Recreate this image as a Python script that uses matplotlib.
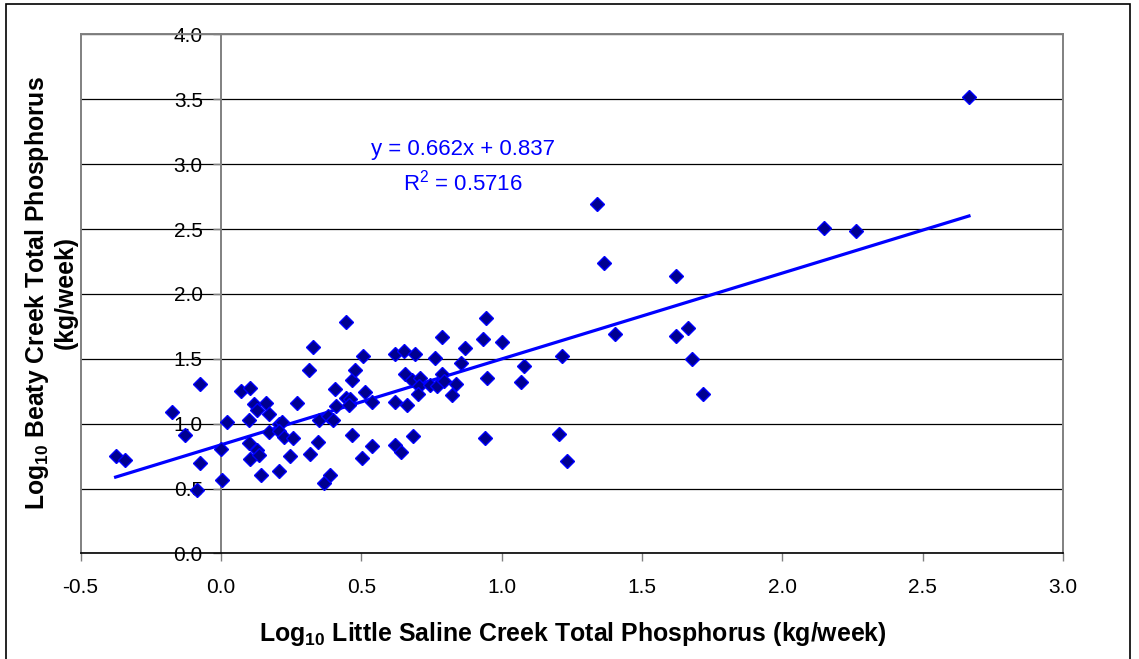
import matplotlib
matplotlib.use('Agg')
import matplotlib.pyplot as plt
from matplotlib.patches import Rectangle
import numpy as np

# log10 weekly total phosphorus loads, Little Saline Creek (x) vs Beaty Creek (y)
little_saline = [-0.375, -0.34, -0.174, -0.129, -0.073, -0.073, -0.085, 0.022, 0.0, 0.004,
                 0.072, 0.105, 0.099, 0.099, 0.105, 0.119, 0.129, 0.129, 0.137, 0.144,
                 0.162, 0.173, 0.173, 0.206, 0.216, 0.208, 0.224, 0.206, 0.245, 0.256,
                 0.271, 0.313, 0.328, 0.316, 0.345, 0.349, 0.368, 0.39, 0.38, 0.401,
                 0.407, 0.411, 0.445, 0.461, 0.455, 0.467, 0.479, 0.508, 0.512, 0.54,
                 0.467, 0.502, 0.54, 0.445, 0.619, 0.652, 0.69, 0.619, 0.663, 0.657,
                 0.68, 0.708, 0.704, 0.702, 0.746, 0.769, 0.787, 0.795, 0.763, 0.787,
                 0.837, 0.825, 0.855, 0.87, 0.932, 0.944, 1.003, 0.947, 0.941, 0.619,
                 0.641, 0.686, 1.08, 1.069, 1.216, 1.205, 1.232, 1.339, 1.366, 1.623,
                 1.404, 1.623, 1.663, 1.677, 1.716, 2.665, 2.147, 2.264]
beaty = [0.749, 0.72, 1.089, 0.917, 1.305, 0.697, 0.49, 1.012, 0.806, 0.564,
         1.256, 1.279, 1.027, 0.855, 0.731, 1.15, 1.104, 0.80, 0.757, 0.605,
         1.161, 1.073, 0.937, 1.001, 1.017, 0.945, 0.898, 0.636, 0.749, 0.893,
         1.156, 1.411, 1.593, 0.77, 0.857, 1.032, 0.54, 0.602, 1.058, 1.027,
         1.264, 1.135, 1.197, 1.187, 1.144, 1.336, 1.413, 1.521, 1.246, 1.168,
         0.916, 0.739, 0.832, 1.786, 1.537, 1.557, 1.537, 1.168, 1.143, 1.38,
         1.336, 1.354, 1.29, 1.228, 1.297, 1.29, 1.38, 1.328, 1.508, 1.666,
         1.305, 1.22, 1.465, 1.581, 1.652, 1.812, 1.632, 1.354, 0.893, 0.834,
         0.782, 0.903, 1.447, 1.318, 1.521, 0.919, 0.71, 2.695, 2.237, 2.139,
         1.691, 1.678, 1.74, 1.498, 1.233, 3.516, 2.512, 2.489]

# linear trendline
slope = 0.662
intercept = 0.837
r_squared = 0.5716

x_ticks = [-0.5, 0.0, 0.5, 1.0, 1.5, 2.0, 2.5, 3.0]
y_ticks = [0.0, 0.5, 1.0, 1.5, 2.0, 2.5, 3.0, 3.5, 4.0]

plt.rcParams['font.family'] = ['Liberation Sans', 'DejaVu Sans']
plt.rcParams['mathtext.fontset'] = 'custom'
plt.rcParams['mathtext.rm'] = 'Liberation Sans'
plt.rcParams['mathtext.bf'] = 'Liberation Sans:bold'

fig = plt.figure(figsize=(11.39, 6.59), dpi=100)
ax = fig.add_axes([0.0707, 0.1601, 0.8626, 0.7876])

ax.set_xlim(-0.5, 3.0)
ax.set_ylim(0.0, 4.0)

ax.yaxis.grid(True, color='black', lw=0.9)
ax.set_axisbelow(True)

# y axis crosses at x = 0
ax.spines['left'].set_position(('data', 0))
ax.spines['left'].set_color('#808080')
ax.spines['left'].set_linewidth(1.4)
for s in ['top', 'right']:
    ax.spines[s].set_color('#808080')
    ax.spines[s].set_linewidth(1.4)
ax.spines['bottom'].set_color('black')
ax.spines['bottom'].set_linewidth(1.2)
ax.axvline(-0.5, color='#808080', lw=1.4, clip_on=False)

ax.set_xticks(x_ticks)
ax.set_xticklabels(['%.1f' % v for v in x_ticks])
ax.set_yticks(y_ticks)
ax.set_yticklabels(['%.1f' % v for v in y_ticks])
ax.tick_params(axis='x', direction='out', length=6, width=1, color='#808080',
               pad=12, labelsize=15)
ax.tick_params(axis='y', direction='out', length=6, width=1, color='#808080',
               pad=7, labelsize=15)

ax.plot(little_saline, beaty, linestyle='none', marker='D', markersize=7,
        markerfacecolor='#000090', markeredgecolor='#0000ff', markeredgewidth=1,
        zorder=3)

xs = np.array([min(little_saline), max(little_saline)])
ax.plot(xs, slope * xs + intercept, color='#0000ff', lw=2.3, zorder=2)

ax.text(0.861, 3.11, 'y = %.3fx + %.3f' % (slope, intercept), color='#0000ff',
        fontsize=16, ha='center', va='center')
ax.text(0.861, 2.855, 'R$^{2}$ = %.4f' % r_squared, color='#0000ff',
        fontsize=16, ha='center', va='center')

fig.text(0.5026, 1 - 634 / 659, r'Log$_{\mathbf{10}}$ Little Saline Creek Total Phosphorus (kg/week)',
         fontweight='bold', fontsize=17.9, ha='center', va='center')
fig.text(50 / 1139, 1 - 293 / 659, 'Log$_{\\mathbf{10}}$ Beaty Creek Total Phosphorus\n(kg/week)',
         fontweight='bold', fontsize=17.8, ha='center', va='center',
         rotation=90, multialignment='center', linespacing=1.15)

# border around the chart (bottom edge falls outside the image)
fig.patches.append(Rectangle((5.5 / 1139, -0.02), 1124.5 / 1139, 1 - 4 / 659 + 0.02,
                             transform=fig.transFigure, fill=False,
                             edgecolor='black', lw=1.2))

plt.savefig('out.png', dpi=100)
